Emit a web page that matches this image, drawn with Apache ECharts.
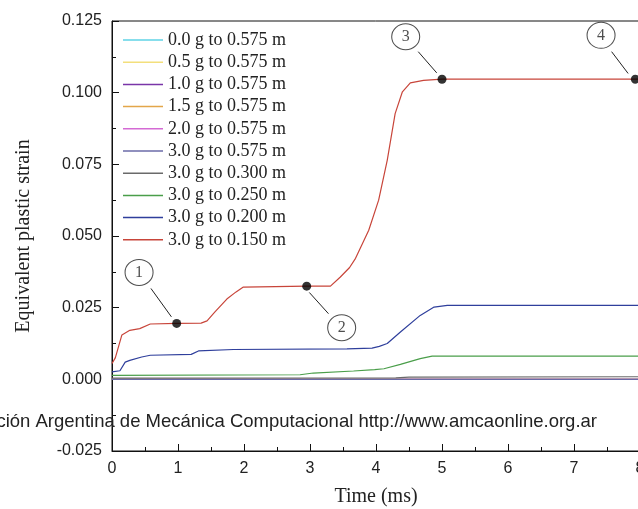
<!DOCTYPE html>
<html>
<head>
<meta charset="utf-8">
<script src="https://cdn.jsdelivr.net/npm/echarts@6/dist/echarts.min.js"></script>
<style>
  html, body { margin: 0; padding: 0; background: #fff; }
  #chart { width: 638px; height: 509px; }
</style>
</head>
<body>
<div id="chart"></div>
<script>
// series names (legend order)
const names = [
  '0.0 g to 0.575 m', '0.5 g to 0.575 m', '1.0 g to 0.575 m', '1.5 g to 0.575 m',
  '2.0 g to 0.575 m', '3.0 g to 0.575 m', '3.0 g to 0.300 m', '3.0 g to 0.250 m',
  '3.0 g to 0.200 m', '3.0 g to 0.150 m'
]
const colors = ['#5fd3e6', '#f3df7c', '#7a35a8', '#e3a64a', '#d46ad4',
  '#6b6ba8', '#6a6a6a', '#4a9e4a', '#2f3f9c', '#c8453a']

// near-zero curves
const flatT = [0, 8]
const g00V = [0, 0]
const g05V = [0, 0]
const g10V = [0, 0]
const g15V = [0, 0]
const g20V = [0, 0]
const g30d575V = [0, 0]

// 3.0 g to 0.300 m
const d300T = [0, 4.3, 4.5, 8]
const d300V = [0.0004, 0.0005, 0.0008, 0.0009]

// 3.0 g to 0.250 m
const d250T = [0, 2.85, 3.05, 3.66, 3.98, 4.12, 4.37, 4.67, 4.85, 8]
const d250V = [0.0014, 0.0016, 0.0022, 0.0029, 0.0034, 0.0037, 0.0052, 0.0072, 0.0081, 0.0081]

// 3.0 g to 0.200 m
const d200T = [0, 0.12, 0.2, 0.27, 0.45, 0.58, 1.2, 1.31, 1.84, 3.56, 3.94, 4.05, 4.17, 4.37, 4.67, 4.88, 5.08, 8]
const d200V = [0.0026, 0.003, 0.006, 0.0066, 0.0078, 0.0084, 0.0087, 0.0099, 0.0104, 0.0106, 0.0109, 0.0115, 0.0125, 0.0165, 0.0223, 0.0252, 0.0258, 0.0258]

// 3.0 g to 0.150 m
const d150T = [0, 0.05, 0.1, 0.15, 0.27, 0.42, 0.58, 0.98, 1.35, 1.44, 1.56, 1.74, 1.88, 1.99, 2.95, 3.31, 3.46, 3.6, 3.69, 3.89, 4.04, 4.17, 4.29, 4.4, 4.52, 4.72, 5.0, 8]
const d150V = [0.0055, 0.0075, 0.0115, 0.0155, 0.0171, 0.0177, 0.0193, 0.0195, 0.0196, 0.0204, 0.0235, 0.028, 0.0305, 0.0322, 0.0325, 0.0325, 0.0357, 0.039, 0.0422, 0.052, 0.0625, 0.0764, 0.0927, 0.1003, 0.1034, 0.1043, 0.1047, 0.1047]

// marked points 1-4 on the red curve
const dotT = [0.98, 2.95, 5.0, 7.93]
const dotV = [0.0195, 0.0325, 0.1047, 0.1047]
// circled labels and arrows
const tagText = ['1', '2', '3', '4']
const tagT = [0.41, 3.48, 4.45, 7.41]
const tagV = [0.0373, 0.018, 0.1195, 0.120]
const arrowFromT = [0.59, 3.28, 4.64, 7.57]
const arrowFromV = [0.0317, 0.0229, 0.1143, 0.1143]
const arrowToT = [0.9, 2.99, 4.92, 7.82]
const arrowToV = [0.0218, 0.0303, 0.1069, 0.1067]

const yTicks = [-0.025, 0.125, 0.025]

const zip = (t, v) => t.map((x, i) => [x, v[i]])
const lineData = [
  zip(flatT, g00V), zip(flatT, g05V), zip(flatT, g10V), zip(flatT, g15V),
  zip(flatT, g20V), zip(flatT, g30d575V), zip(d300T, d300V), zip(d250T, d250V),
  zip(d200T, d200V), zip(d150T, d150V)
]

const serif = 'Liberation Serif'
const sans = 'Liberation Sans'

const series = lineData.map((d, i) => ({
  name: names[i],
  type: 'line',
  data: d,
  symbol: 'none',
  lineStyle: { width: 1.2, color: colors[i] },
  itemStyle: { color: colors[i] },
  z: 2 + i
}))

// dots
series.push({
  name: 'points',
  type: 'scatter',
  data: zip(dotT, dotV),
  symbolSize: 9,
  itemStyle: { color: '#000' },
  z: 20,
  markLine: {
    silent: true,
    symbol: ['none', 'arrow'],
    symbolSize: [0, 9],
    lineStyle: { color: '#222', width: 1, type: 'solid' },
    label: { show: false },
    data: arrowFromT.map((t, i) => [
      { coord: [t, arrowFromV[i]] },
      { coord: [arrowToT[i], arrowToV[i]] }
    ])
  }
})

// circled numbers
series.push({
  name: 'tags',
  type: 'scatter',
  data: zip(tagT, tagV).map((p, i) => ({ value: p, label: { formatter: tagText[i] } })),
  symbol: 'circle',
  symbolSize: [28, 26],
  itemStyle: { color: '#fff', borderColor: '#222', borderWidth: 1 },
  label: {
    show: true,
    position: 'inside',
    color: '#222',
    fontFamily: serif,
    fontSize: 16
  },
  z: 20
})

const myChart = echarts.init(document.querySelector('#chart'))
const option = {
  animation: false,
  backgroundColor: '#fff',
  grid: {
    left: 112,
    top: 21,
    right: -2,
    bottom: 58,
    outerBoundsMode: 'none',
    show: true,
    borderColor: '#111',
    borderWidth: 1
  },
  legend: {
    data: names,
    orient: 'vertical',
    left: 118,
    top: 26,
    icon: 'rect',
    itemWidth: 40,
    itemHeight: 1.5,
    itemGap: 4.2,
    textStyle: { fontFamily: serif, fontSize: 18, color: '#222', lineHeight: 18 },
    selectedMode: false
  },
  xAxis: {
    type: 'value',
    min: 0,
    max: 8,
    interval: 1,
    name: 'Time (ms)',
    nameLocation: 'middle',
    nameGap: 36,
    nameTextStyle: { fontFamily: serif, fontSize: 20, color: '#222' },
    axisLine: { onZero: false, lineStyle: { color: '#111', width: 1 } },
    axisTick: { inside: true, length: 7, lineStyle: { color: '#111' } },
    minorTick: { show: true, splitNumber: 2, length: 4, lineStyle: { color: '#111' } },
    axisLabel: { fontFamily: sans, fontSize: 16, color: '#222', margin: 10 },
    splitLine: { show: false }
  },
  yAxis: {
    type: 'value',
    min: yTicks[0],
    max: yTicks[1],
    interval: yTicks[2],
    name: 'Equivalent plastic strain',
    nameLocation: 'middle',
    nameGap: 78,
    nameTextStyle: { fontFamily: serif, fontSize: 20, color: '#222' },
    axisLine: { onZero: false, lineStyle: { color: '#111', width: 1 } },
    axisTick: { inside: true, length: 7, lineStyle: { color: '#111' } },
    minorTick: { show: true, splitNumber: 2, length: 4, lineStyle: { color: '#111' } },
    axisLabel: {
      fontFamily: sans, fontSize: 16, color: '#222', margin: 10,
      formatter: v => v.toFixed(3)
    },
    splitLine: { show: false }
  },
  graphic: [{
    type: 'text',
    right: 41,
    top: 412,
    style: {
      text: 'Asociación Argentina de Mecánica Computacional http://www.amcaonline.org.ar',
      font: '18.5px "Liberation Sans"',
      fill: '#222'
    },
    z: 30
  }],
  series: series
}
myChart.setOption(option)
</script>
</body>
</html>
